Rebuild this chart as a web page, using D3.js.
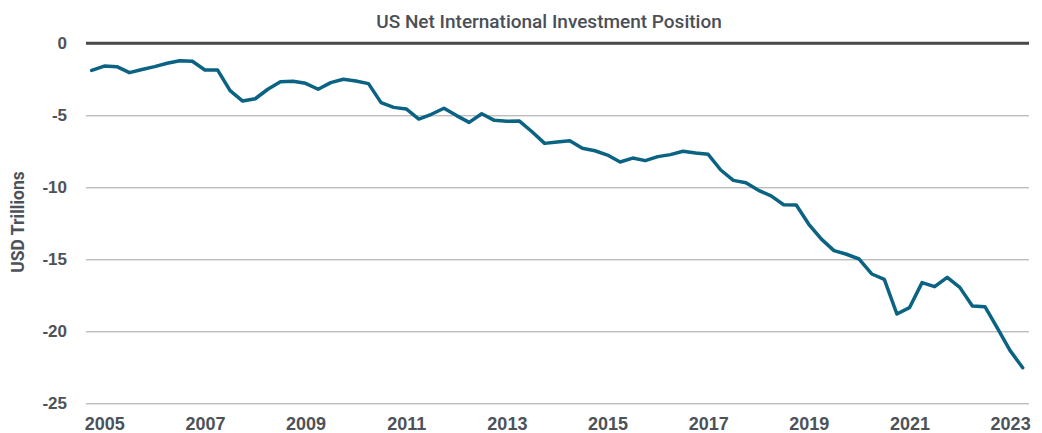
<!DOCTYPE html>
<html>
<head>
<meta charset="utf-8">
<script src="https://cdn.jsdelivr.net/npm/d3@7"></script>
<style>
  body { margin: 0; background: #fff; }
  svg { display: block; font-family: Roboto, "DejaVu Sans", sans-serif; }
</style>
</head>
<body>
<svg id="chart"></svg>
<script>
// quarterly net position, USD trillions
const niip = [
  -1.88, -1.58, -1.62, -2.04, -1.82, -1.62, -1.39, -1.21, -1.25, -1.85,
  -1.85, -3.29, -4.01, -3.85, -3.19, -2.67, -2.64, -2.78, -3.19, -2.73,
  -2.50, -2.62, -2.80, -4.12, -4.45, -4.56, -5.26, -4.93, -4.51, -5.02,
  -5.49, -4.89, -5.35, -5.42, -5.40, -6.14, -6.95, -6.86, -6.76, -7.29,
  -7.46, -7.76, -8.24, -7.97, -8.15, -7.87, -7.73, -7.50, -7.62, -7.71,
  -8.80, -9.52, -9.68, -10.21, -10.60, -11.21, -11.23, -12.57, -13.60, -14.40,
  -14.65, -14.98, -16.02, -16.39, -18.80, -18.36, -16.62, -16.90, -16.25, -16.95,
  -18.24, -18.29, -19.80, -21.34, -22.53
];
const yearLabels = ["2005", "2007", "2009", "2011", "2013", "2015", "2017", "2019", "2021", "2023"];
const yearTickIndex = [1, 9, 17, 25, 33, 41, 49, 57, 65, 73];
const yTicks = [0, -5, -10, -15, -20, -25];

const width = 1042, height = 433;
const gridLeft = 86, gridRight = 1029;

const svg = d3.select("#chart")
    .attr("width", width)
    .attr("height", height);

const x = d3.scaleLinear()
    .domain([0, niip.length - 1])
    .range([91.7, 1022.7]);

const y = d3.scaleLinear()
    .domain([-25, 0])
    .range([403.3, 43.3]);

// title
svg.append("text")
    .attr("x", 549)
    .attr("y", 28)
    .attr("text-anchor", "middle")
    .attr("font-size", 19)
    .attr("font-weight", 500)
    .attr("fill", "#4a4f57")
    .text("US Net International Investment Position");

// y axis with gridlines
const yAxis = svg.append("g")
    .attr("transform", `translate(${gridLeft},0)`)
    .call(d3.axisLeft(y)
        .tickValues(yTicks)
        .tickSize(-(gridRight - gridLeft))
        .tickPadding(19)
        .tickFormat(d => d === 0 ? "0" : d3.format("d")(d).replace("−", "-")));

yAxis.select(".domain").remove();
yAxis.selectAll(".tick line")
    .attr("stroke", "#a3a3a3")
    .attr("stroke-width", 1);
yAxis.selectAll(".tick text")
    .attr("font-size", 17)
    .attr("font-weight", 700)
    .attr("fill", "#4d5259");

// zero line
svg.append("line")
    .attr("x1", gridLeft)
    .attr("x2", gridRight)
    .attr("y1", y(0))
    .attr("y2", y(0))
    .attr("stroke", "#4a4a4a")
    .attr("stroke-width", 3);

// x axis labels
const xAxis = svg.append("g")
    .attr("transform", `translate(0,${y(-25)})`)
    .call(d3.axisBottom(x)
        .tickValues(yearTickIndex)
        .tickSize(0)
        .tickFormat((d, i) => yearLabels[i]));

xAxis.select(".domain").remove();
xAxis.selectAll(".tick text")
    .attr("y", 26.5)
    .attr("dy", 0)
    .attr("font-size", 18)
    .attr("font-weight", 700)
    .attr("fill", "#4d5259");

// y axis title
svg.append("text")
    .attr("transform", "translate(24,222) rotate(-90)")
    .attr("text-anchor", "middle")
    .attr("font-size", 17.5)
    .attr("font-weight", 700)
    .attr("fill", "#4d5259")
    .text("USD Trillions");

// the line
const line = d3.line()
    .x((d, i) => x(i))
    .y(d => y(d));

svg.append("path")
    .datum(niip)
    .attr("fill", "none")
    .attr("stroke", "#0b6383")
    .attr("stroke-width", 3.5)
    .attr("stroke-linejoin", "round")
    .attr("stroke-linecap", "round")
    .attr("d", line);
</script>
</body>
</html>
